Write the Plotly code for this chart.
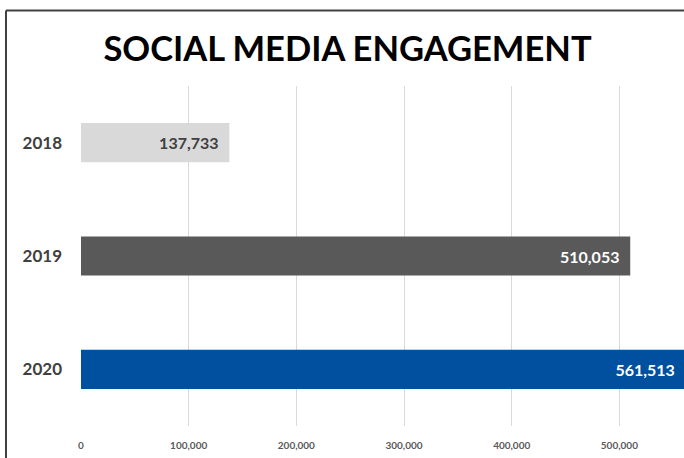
import plotly.graph_objects as go

years = ["2018", "2019", "2020"]
engagement = [137733, 510053, 561513]
bar_colors = ["#d9d9d9", "#595959", "#0050a0"]
label_colors = ["#404040", "#ffffff", "#ffffff"]
tick_vals = [0, 100000, 200000, 300000, 400000, 500000]
tick_text = ["0", "100,000", "200,000", "300,000", "400,000", "500,000"]

NB = "\u00a0"

fig = go.Figure(go.Bar(
    y=years,
    x=engagement,
    orientation="h",
    marker=dict(color=bar_colors, line=dict(width=0)),
    width=0.345,
    text=[f"{v:,}" + NB * 2 for v in engagement],
    textposition="inside",
    insidetextanchor="end",
    textangle=0,
    textfont=dict(family="Lato", size=16, color=label_colors, weight="bold"),
    constraintext="none",
    cliponaxis=True,
    hoverinfo="skip",
))

fig.update_layout(
    width=684, height=458,
    margin=dict(l=81, r=0, t=86, b=32, pad=0),
    paper_bgcolor="white", plot_bgcolor="white",
    showlegend=False,
    title=dict(text="<b>SOCIAL MEDIA ENGAGEMENT</b>", x=347.5 / 684, xanchor="center",
               y=1 - 49 / 458, yanchor="middle",
               font=dict(family="Lato", size=34.5, color="#000000")),
    xaxis=dict(range=[0, 560000], tickvals=tick_vals, ticktext=tick_text,
               showgrid=True, gridcolor="#d9d9d9", gridwidth=1, zeroline=False,
               showline=False, ticks="", automargin=False, ticklabelstandoff=12,
               tickfont=dict(family="Lato", size=10, color="#595959", weight="bold")),
    yaxis=dict(categoryorder="array", categoryarray=years, autorange="reversed",
               showgrid=False, zeroline=False, showline=False, ticks="",
               automargin=False, ticklabelstandoff=18,
               tickfont=dict(family="Lato", size=17, color="#404040", weight="bold")),
    shapes=[
        dict(type="line", xref="paper", yref="paper", x0=-75 / 603, x1=-75 / 603,
             y0=(426 - 10.5) / 340, y1=-0.12, line=dict(color="#404040", width=2)),
        dict(type="line", xref="paper", yref="paper", x0=-75 / 603, x1=1.01,
             y0=(426 - 10.5) / 340, y1=(426 - 10.5) / 340,
             line=dict(color="#404040", width=2)),
    ],
)

fig.write_html("out.html", config={"displayModeBar": False},
               post_script="document.body.style.margin='0px';")
